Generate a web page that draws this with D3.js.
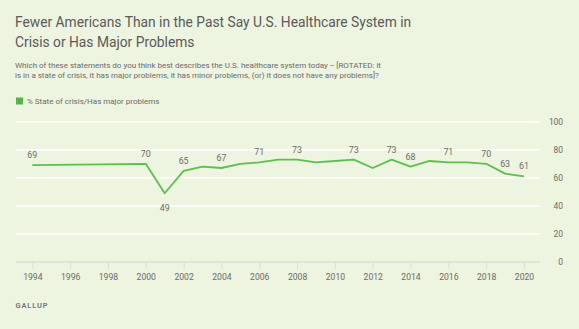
<!DOCTYPE html>
<html>
<head>
<meta charset="utf-8">
<script src="https://cdn.jsdelivr.net/npm/d3@7"></script>
<style>
  html, body { margin: 0; padding: 0; background: #edf4df; }
  svg { display: block; font-family: Roboto, "Noto Sans", sans-serif; }
</style>
</head>
<body>
<div id="chart"></div>
<script>
// data
var years  = [1994, 2000, 2001, 2002, 2003, 2004, 2005, 2006, 2007, 2008, 2009, 2010,
              2011, 2012, 2013, 2014, 2015, 2016, 2017, 2018, 2019, 2020];
var values = [69, 70, 49, 65, 68, 67, 70, 71, 73, 73, 71, 72,
              73, 67, 73, 68, 72, 71, 71, 70, 63, 61];
// years that get a number printed next to the point
var labelYears = [1994, 2000, 2001, 2002, 2004, 2006, 2008, 2011, 2013, 2014, 2016, 2018, 2019, 2020];
var belowYears = [2001];
var xTicks = [1994, 1996, 1998, 2000, 2002, 2004, 2006, 2008, 2010, 2012, 2014, 2016, 2018, 2020];
var yTicks = [0, 20, 40, 60, 80, 100];

var titleLines = ["Fewer Americans Than in the Past Say U.S. Healthcare System in",
                  "Crisis or Has Major Problems"];
var subLines = ["Which of these statements do you think best describes the U.S. healthcare system today -- [ROTATED: it",
                "is in a state of crisis, it has major problems, it has minor problems, (or) it does not have any problems]?"];
var legendLabel = "% State of crisis/Has major problems";

var W = 579, H = 329;
var green = "#5cc04d", textCol = "#6b6b6b";

var svg = d3.select("#chart").append("svg")
    .attr("width", W).attr("height", H);

svg.append("rect").attr("width", W).attr("height", H).attr("fill", "#edf4df");

// titles
svg.selectAll("text.title")
    .data(titleLines).enter().append("text")
    .attr("class", "title")
    .attr("x", 15).attr("y", function(d, i) { return 27 + i * 20; })
    .attr("font-size", "13.8px")
    .attr("fill", "#5a5a5a")
    .text(function(d) { return d; });

svg.selectAll("text.sub")
    .data(subLines).enter().append("text")
    .attr("class", "sub")
    .attr("x", 15).attr("y", function(d, i) { return 68 + i * 9.5; })
    .attr("font-size", "8px")
    .attr("fill", textCol)
    .text(function(d) { return d; });

// legend
svg.append("rect").attr("x", 16).attr("y", 97.5).attr("width", 7).attr("height", 7).attr("fill", "#4fb848");
svg.append("text").attr("x", 27).attr("y", 103.5)
    .attr("font-size", "8px").attr("fill", textCol)
    .text(legendLabel);

// scales
var x = d3.scaleLinear().domain([1994, 2020]).range([32.3, 524]);
var y = d3.scaleLinear().domain([0, 100]).range([262, 121.7]);

// gridlines
svg.append("g").selectAll("line")
    .data(yTicks.filter(function(d) { return d > 0; }))
    .enter().append("line")
    .attr("x1", 16).attr("x2", 540)
    .attr("y1", function(d) { return y(d); })
    .attr("y2", function(d) { return y(d); })
    .attr("stroke", "#ffffff").attr("stroke-width", 1.5);

// x axis
var xAxis = svg.append("g")
    .attr("transform", "translate(0," + y(0) + ")")
    .call(d3.axisBottom(x).tickValues(xTicks).tickFormat(d3.format("d")).tickSize(7).tickPadding(5));
xAxis.select(".domain").remove();
xAxis.insert("line", ":first-child")
    .attr("x1", 16).attr("x2", 540)
    .attr("stroke", "#dcdfd8").attr("stroke-width", 1.5);
xAxis.selectAll(".tick line").attr("stroke", "#dcdfd8").attr("stroke-width", 1);
xAxis.selectAll(".tick text")
    .attr("fill", textCol).attr("font-size", "8.6px")
    .attr("font-family", "Roboto, sans-serif");

// y axis labels on the right
var yAxis = svg.append("g")
    .attr("transform", "translate(563,0)")
    .call(d3.axisLeft(y).tickValues(yTicks).tickSize(0).tickPadding(0));
yAxis.select(".domain").remove();
yAxis.selectAll(".tick text")
    .attr("fill", textCol).attr("font-size", "8.4px")
    .attr("font-family", "Roboto, sans-serif");

// line
var line = d3.line()
    .x(function(d, i) { return x(years[i]); })
    .y(function(d) { return y(d); });

svg.append("path")
    .datum(values)
    .attr("d", line)
    .attr("fill", "none")
    .attr("stroke", green)
    .attr("stroke-width", 1.8)
    .attr("stroke-linejoin", "round");

// point labels
svg.append("g").selectAll("text")
    .data(labelYears).enter().append("text")
    .attr("x", function(d) { return x(d); })
    .attr("y", function(d) {
        var v = values[years.indexOf(d)];
        return belowYears.indexOf(d) >= 0 ? y(v) + 17.5 : y(v) - 7;
    })
    .attr("text-anchor", "middle")
    .attr("font-size", "8.8px")
    .attr("fill", textCol)
    .text(function(d) { return values[years.indexOf(d)]; });

// source
svg.append("text").attr("x", 15.5).attr("y", 307.8)
    .attr("font-size", "7.4px").attr("font-weight", "bold")
    .attr("letter-spacing", "0.9px")
    .attr("fill", "#7a7a7a")
    .text("GALLUP");
</script>
</body>
</html>
